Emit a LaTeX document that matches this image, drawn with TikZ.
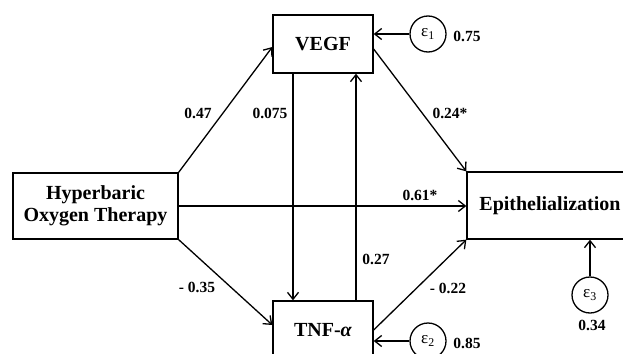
\documentclass[tikz,border=0pt]{standalone}
\usepackage{fontspec}
\setmainfont{Liberation Serif}
\usetikzlibrary{arrows.meta,calc}
\begin{document}
\begin{tikzpicture}[x=1pt,y=-1pt,
  boxnode/.style={draw,line width=1.3pt,rectangle,inner sep=0pt,align=center,
    font=\fontsize{20}{22}\selectfont\bfseries},
  errnode/.style={draw,line width=1.3pt,circle,minimum size=36pt,inner sep=0pt,
    font=\fontsize{17}{17}\selectfont},
  lbl/.style={font=\fontsize{15.5}{16}\selectfont\bfseries,inner sep=0pt},
  conn/.style={line width=1.3pt,-{Straight Barb[length=7pt,width=11pt,line width=1.3pt]}}
]
\clip (0,0) rectangle (623,353);
\fill[white] (0,0) rectangle (623,353);
\node[boxnode,minimum width=165pt,minimum height=66pt] (hbot) at (95.5,206) {Hyperbaric\\Oxygen Therapy};
\node[boxnode,minimum width=100pt,minimum height=58pt] (vegf) at (323,44) {VEGF};
\node[boxnode,minimum width=100pt,minimum height=58pt] (tnf) at (323,330) {TNF-\textit{α}};
\node[boxnode,minimum width=166pt,minimum height=67pt] (epi) at (550,205.5) {Epithelialization};
\node[errnode] (e1) at (428,34) {ε\textsubscript{1}};
\node[errnode] (e2) at (428,341) {ε\textsubscript{2}};
\node[errnode] (e3) at (590,295) {ε\textsubscript{3}};

\draw[conn] (hbot.north east) -- ([yshift=-3pt]vegf.west);
\draw[conn] (hbot.south east) -- ([yshift=5pt]tnf.west);
\draw[conn] (hbot.east) -- (hbot.east -| epi.west);
\draw[conn] ([yshift=-5pt]vegf.east) -- (epi.north west);
\draw[conn] (tnf.east) -- (epi.south west);
\draw[conn] ([xshift=-30pt]vegf.south) -- ([xshift=-30pt]tnf.north);
\draw[conn] ([xshift=33pt]tnf.north) -- ([xshift=33pt]vegf.south);
\draw[conn] (e1.west) -- (e1 -| vegf.east);
\draw[conn] (e2.west) -- (e2 -| tnf.east);
\draw[conn] (e3.north) -- (e3 |- epi.south);

\node[lbl] (l1) at (198,113) {0.47};
\node[lbl] (l2) at (270,113) {0.075};
\node[lbl] (l3) at (450,113) {0.24*};
\node[lbl] (l4) at (420,195) {0.61*};
\node[lbl] (l5) at (197,287) {- 0.35};
\node[lbl] (l6) at (376,259) {0.27};
\node[lbl] (l7) at (448,288) {- 0.22};
\node[lbl] (l8) at (467,36) {0.75};
\node[lbl] (l9) at (467,343) {0.85};
\node[lbl] (l10) at (592,325) {0.34};
\end{tikzpicture}
\end{document}
